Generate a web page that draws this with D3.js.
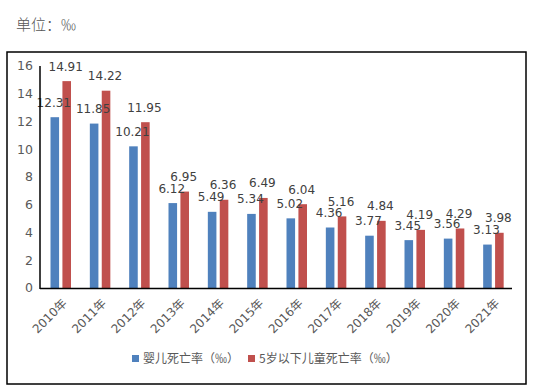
<!DOCTYPE html>
<html><head><meta charset="utf-8">
<script src="https://cdn.jsdelivr.net/npm/d3@7"></script>
<style>
html,body{margin:0;padding:0;background:#fff;}
text{font-family:"DejaVu Sans","Noto Sans CJK SC",sans-serif;}
</style></head>
<body>
<svg id="chart" width="534" height="389"></svg>
<script>
const categories = ["2010年","2011年","2012年","2013年","2014年","2015年","2016年","2017年","2018年","2019年","2020年","2021年"];
const infantRate = [12.31,11.85,10.21,6.12,5.49,5.34,5.02,4.36,3.77,3.45,3.56,3.13];
const under5Rate = [14.91,14.22,11.95,6.95,6.36,6.49,6.04,5.16,4.84,4.19,4.29,3.98];
const seriesNames = ["婴儿死亡率（‰）","5岁以下儿童死亡率（‰）"];
const seriesColors = ["#4F81BD","#C0504D"];
const yTicks = [0,2,4,6,8,10,12,14,16];
const unitLabel = "单位：‰";

(function(){
const svg = d3.select("#chart");
const pLeft = 40, pRight = 512, pTop = 66, pBottom = 288;

svg.append("text").attr("x",16).attr("y",30)
  .style("font-family","'Noto Sans CJK SC',sans-serif").style("font-size","15px").style("font-weight","300")
  .attr("fill","#555").text(unitLabel);

svg.append("rect").attr("x",7).attr("y",52).attr("width",519).attr("height",332)
  .attr("fill","none").attr("stroke","#000").attr("stroke-width",1.5);

const x0 = d3.scaleBand().domain(categories).range([pLeft,pRight]).paddingInner(0).paddingOuter(0);
const x1 = d3.scaleBand().domain([0,1]).range([10.5,31]).paddingInner(0.28);
const y = d3.scaleLinear().domain([0,16]).range([pBottom,pTop]);

svg.append("g").selectAll("text").data(yTicks).join("text")
  .attr("x",33).attr("y",d=>y(d)).attr("dy","0.35em").attr("text-anchor","end")
  .attr("fill","#595959").style("font-size","12.5px").text(d=>d);

const series = [infantRate, under5Rate];
series.forEach((vals,si)=>{
  svg.append("g").selectAll("rect").data(vals).join("rect")
    .attr("x",(d,i)=>x0(categories[i])+x1(si))
    .attr("y",d=>y(d))
    .attr("width",x1.bandwidth())
    .attr("height",d=>y(0)-y(d))
    .attr("fill",seriesColors[si]);
});
series.forEach((vals,si)=>{
  svg.append("g").selectAll("text").data(vals).join("text")
    .attr("x",(d,i)=>x0(categories[i])+x1(si)+x1.bandwidth()/2-1)
    .attr("y",d=>y(d)-10.5)
    .attr("text-anchor","middle").attr("fill","#404040").style("font-size","12px")
    .text(d=>d.toFixed(2));
});

svg.append("line").attr("x1",pLeft).attr("x2",pLeft).attr("y1",pTop).attr("y2",pBottom+1)
  .attr("stroke","#000").attr("stroke-width",1.5);
svg.append("line").attr("x1",pLeft).attr("x2",pRight).attr("y1",pBottom+0.5).attr("y2",pBottom+0.5)
  .attr("stroke","#000").attr("stroke-width",1.5);

svg.append("g").selectAll("text").data(categories).join("text")
  .attr("transform",d=>`translate(${x0(d)+x0.bandwidth()/2+5},${pBottom+13}) rotate(-45)`)
  .attr("text-anchor","end").attr("dy","0.35em")
  .attr("fill","#595959").style("font-size","12px").text(d=>d);

const lg = svg.append("g");
const legendX = [132,248];
seriesNames.forEach((n,i)=>{
  lg.append("rect").attr("x",legendX[i]).attr("y",355).attr("width",7).attr("height",7).attr("fill",seriesColors[i]);
  lg.append("text").attr("x",legendX[i]+11).attr("y",359).attr("dy","0.35em")
    .style("font-family","'Noto Sans CJK SC',sans-serif")
    .attr("fill","#595959").style("font-size","12px").text(n);
});
})();
</script>
</body></html>
